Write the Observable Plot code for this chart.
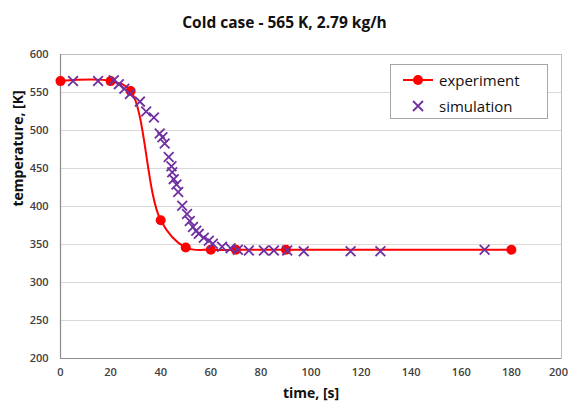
<!DOCTYPE html>
<html>
<head>
<meta charset="utf-8">
<script src="https://cdn.jsdelivr.net/npm/d3@7"></script>
<script src="https://cdn.jsdelivr.net/npm/@observablehq/plot@0.6"></script>
<style>
  html, body { margin: 0; padding: 0; background: #fff; }
  #wrap { position: relative; width: 569px; height: 403px; font-family: "Open Sans", "Liberation Sans", sans-serif; }
  #title { height: 40px; line-height: 44px; text-align: center; font-weight: 700; font-size: 15.5px; color: #111; }
  #legend { position: absolute; left: 390px; top: 64px; width: 156px; height: 53px; border: 1px solid #a6a6a6; background: #fff; font-size: 15px; color: #111; }
  #legend .row { position: absolute; left: 10px; height: 20px; display: flex; align-items: center; }
  #legend svg { margin-right: 4px; }
</style>
</head>
<body>
<div id="wrap">
  <div id="title">Cold case - 565 K, 2.79 kg/h</div>
  <div id="chart"></div>
  <div id="legend">
    <div class="row" style="top:5px;"><svg width="34" height="14"><line x1="2" y1="7" x2="32" y2="7" stroke="#ff0000" stroke-width="2"/><circle cx="17" cy="7" r="5" fill="#ff0000"/></svg>experiment</div>
    <div class="row" style="top:31px;"><svg width="34" height="14"><path d="M12,2 L22,12 M22,2 L12,12" stroke="#7030a0" stroke-width="1.8"/></svg>simulation</div>
  </div>
</div>
<script>
const expTime = [0, 20, 28, 40, 50, 60, 70, 90, 180];
const expTemp = [565, 565, 552, 382, 346, 343, 343, 343, 343];

const simTime = [5, 15, 21.3, 23.3, 25.5, 27.7, 31.7, 34.2, 37.3, 39.6, 40.7, 41.6, 43.2, 44.3, 44.6, 45.2, 46.3, 47, 48.6, 50.5, 51.6, 52.9, 54.2, 55.2, 57.2, 59.2, 60.8, 64.5, 67.9, 70.8, 75.2, 81.2, 85.2, 90.5, 97.1, 115.8, 127.7, 169.3];
const simTemp = [565, 565, 566, 561, 555, 548, 538, 525, 517, 496, 491, 483, 465, 453, 445, 436, 429, 419, 401, 390, 381, 373, 368, 364, 359, 355, 351, 347, 345, 343, 342, 342, 342, 342, 341, 341, 341, 343];

const xTicks = [0, 20, 40, 60, 80, 100, 120, 140, 160, 180, 200];
const yTicks = [200, 250, 300, 350, 400, 450, 500, 550, 600];

const exp = expTime.map((t, i) => ({t, T: expTemp[i]}));
const sim = simTime.map((t, i) => ({t, T: simTemp[i]}));

const lastTick = xTicks[xTicks.length - 1];
const innerTicks = xTicks.slice(0, -1);

const chart = Plot.plot({
  width: 569,
  height: 363,
  marginLeft: 60,
  marginRight: 8,
  marginTop: 14,
  marginBottom: 45,
  style: {fontFamily: "'Open Sans', 'Liberation Sans', sans-serif", fontSize: "11px", color: "#404040", background: "#fff"},
  x: {domain: [0, 200], ticks: xTicks, tickSize: 0, tickPadding: 10, label: null},
  y: {domain: [200, 600], ticks: yTicks, tickSize: 0, tickPadding: 12, label: null},
  marks: [
    Plot.gridY(yTicks, {stroke: "#d9d9d9", strokeOpacity: 1, strokeWidth: 1}),
    Plot.frame({stroke: "#bfbfbf"}),
    Plot.ruleX([0], {stroke: "#8c8c8c", strokeWidth: 1.2}),
    Plot.ruleY([200], {stroke: "#8c8c8c", strokeWidth: 1.2}),
    Plot.axisX(innerTicks, {tickSize: 0, tickPadding: 10, fontWeight: 600, fill: "#404040", fontSize: 11, label: null}),
    Plot.axisX([lastTick], {tickSize: 0, tickPadding: 10, dx: -3, fontWeight: 600, fill: "#404040", fontSize: 11, label: null}),
    Plot.axisY(yTicks, {tickSize: 0, tickPadding: 12, fontWeight: 600, fill: "#404040", fontSize: 11, label: null}),
    Plot.line(exp, {x: "t", y: "T", stroke: "#ff0000", strokeWidth: 2, curve: "catmull-rom"}),
    Plot.dot(exp, {x: "t", y: "T", r: 5, fill: "#ff0000", stroke: "none"}),
    Plot.dot(sim, {x: "t", y: "T", symbol: "times", r: 4.5, stroke: "#7030a0", strokeWidth: 1.8}),
    Plot.text(["time, [s]"], {frameAnchor: "bottom", dy: 39, fontWeight: 700, fontSize: 14, fill: "#111"}),
    Plot.text(["temperature, [K]"], {frameAnchor: "left", dx: -42, rotate: -90, fontWeight: 700, fontSize: 14, fill: "#111"})
  ]
});
document.getElementById("chart").appendChild(chart);
</script>
</body>
</html>
